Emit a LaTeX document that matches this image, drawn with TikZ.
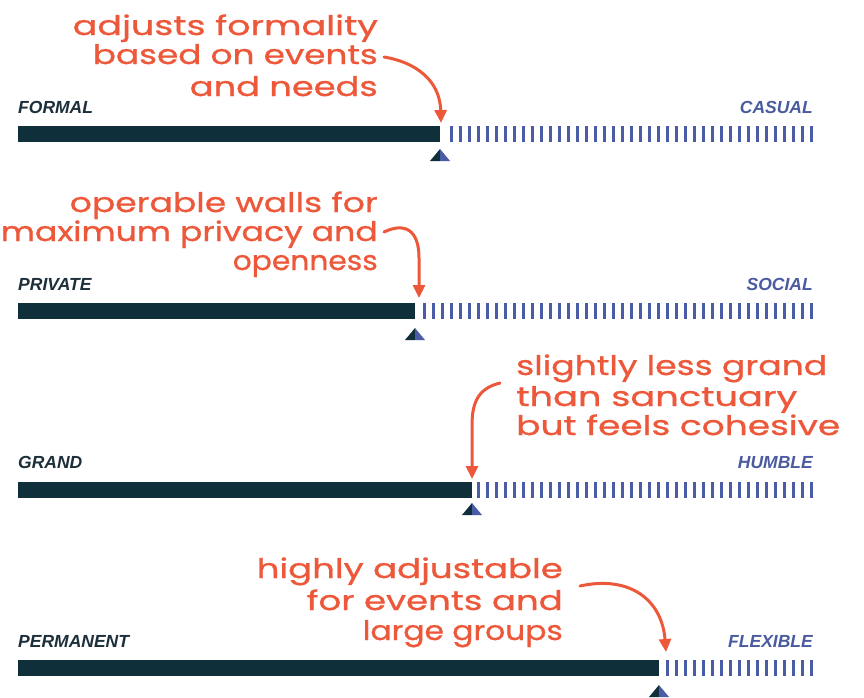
\documentclass[tikz,border=0pt]{standalone}
\usepackage{fontspec}
\usepackage{graphicx}
\setmainfont{Liberation Sans}
\newfontfamily\hwfont[FakeBold=0.8]{Poppins}
\newfontfamily\lblfont{Liberation Sans}
\usetikzlibrary{arrows.meta}
\definecolor{anno}{HTML}{EE583A}
\definecolor{barc}{HTML}{0F2F3B}
\definecolor{tickc}{HTML}{4B5CA6}
\definecolor{darkL}{HTML}{1C2F3A}
\definecolor{blueL}{HTML}{4A5BA0}
\newcommand{\hw}[2]{\resizebox{#1pt}{\height}{#2}}
\tikzset{
  lbl/.style={inner sep=0pt, font=\lblfont\bfseries\itshape\fontsize{17.5}{18}\selectfont},
  lblL/.style={lbl, anchor=base west, text=darkL},
  lblR/.style={lbl, anchor=base east, text=blueL},
  hwR/.style={inner sep=0pt, anchor=base east, text=anno, font=\hwfont\fontsize{27}{27}\selectfont},
  hwL/.style={inner sep=0pt, anchor=base west, text=anno, font=\hwfont\fontsize{27}{27}\selectfont},
  callout/.style={draw=anno, line width=3pt, line cap=round, -{Triangle[length=13pt,width=12pt]}},
}
% #1 name, #2 bar top, #3 marker x, #4 label baseline, #5 left, #6 right, #7 triangle top offset
\newcommand{\scalerow}[7]{%
  \node[lblL] (#1L) at (18,#4) {#5};
  \node[lblR] (#1R) at (813,#4) {#6};
  \pgfmathtruncatemacro\ntick{(811-#3-4)/9}
  \foreach \k in {0,...,\ntick}{
    \fill[tickc] ({811-9*\k-1.5},#2) rectangle ({811-9*\k+1.5},#2+16);
  }
  \fill[barc] (18,#2) rectangle (#3,#2+16);
  \coordinate (#1M) at (#3,#2+#7);
  \fill[barc] (#3-10,#2+#7+12) -- (#1M) -- (#3,#2+#7+12) -- cycle;
  \fill[tickc] (#1M) -- (#3+10,#2+#7+12) -- (#3,#2+#7+12) -- cycle;
}
\begin{document}
\begin{tikzpicture}[x=1pt,y=-1pt]
\useasboundingbox (0,0) rectangle (864,697);
\fill[white] (0,0) rectangle (864,697);

\scalerow{r1}{126}{440}{113}{FORMAL}{CASUAL}{23}
\scalerow{r2}{303}{415}{290}{PRIVATE}{SOCIAL}{25}
\scalerow{r3}{482}{472}{468}{GRAND}{HUMBLE}{21}
\scalerow{r4}{660}{659}{647}{PERMANENT}{FLEXIBLE}{25}

% annotation 1
\node[hwR] (a1l1) at (378,35) {\hw{305}{adjusts formality}};
\node[hwR] (a1l2) at (378,64) {\hw{285}{based on events}};
\node[hwR] (a1l3) at (378,96) {\hw{188}{and needs}};
\coordinate (a1s) at (384,57);
\coordinate (a1e) at (441,123);
\draw[callout] (a1s) .. controls (415,62) and (440,80) .. (a1e);

% annotation 2
\node[hwR] (a2l1) at (378,212) {\hw{308}{operable walls for}};
\node[hwR] (a2l2) at (378,241) {\hw{377}{maximum privacy and}};
\node[hwR] (a2l3) at (378,270) {\hw{145}{openness}};
\coordinate (a2s) at (384,232);
\coordinate (a2e) at (419,298);
\draw[callout] (a2s) .. controls (405,222) and (419,230) .. (419,258) -- (a2e);

% annotation 3
\node[hwL] (a3l1) at (516,375) {\hw{311}{slightly less grand}};
\node[hwL] (a3l2) at (516,406) {\hw{281}{than sanctuary}};
\node[hwL] (a3l3) at (516,435) {\hw{324}{but feels cohesive}};
\coordinate (a3s) at (500,383);
\coordinate (a3e) at (472,479);
\draw[callout] (a3s) .. controls (480,388) and (472,400) .. (472,425) -- (a3e);

% annotation 4
\node[hwR] (a4l1) at (563,578) {\hw{306}{highly adjustable}};
\node[hwR] (a4l2) at (563,610) {\hw{256}{for events and}};
\node[hwR] (a4l3) at (563,640) {\hw{200}{large groups}};
\coordinate (a4s) at (580,586);
\coordinate (a4e) at (666,652);
\draw[callout] (a4s) .. controls (630,575) and (662,600) .. (a4e);
\end{tikzpicture}
\end{document}
